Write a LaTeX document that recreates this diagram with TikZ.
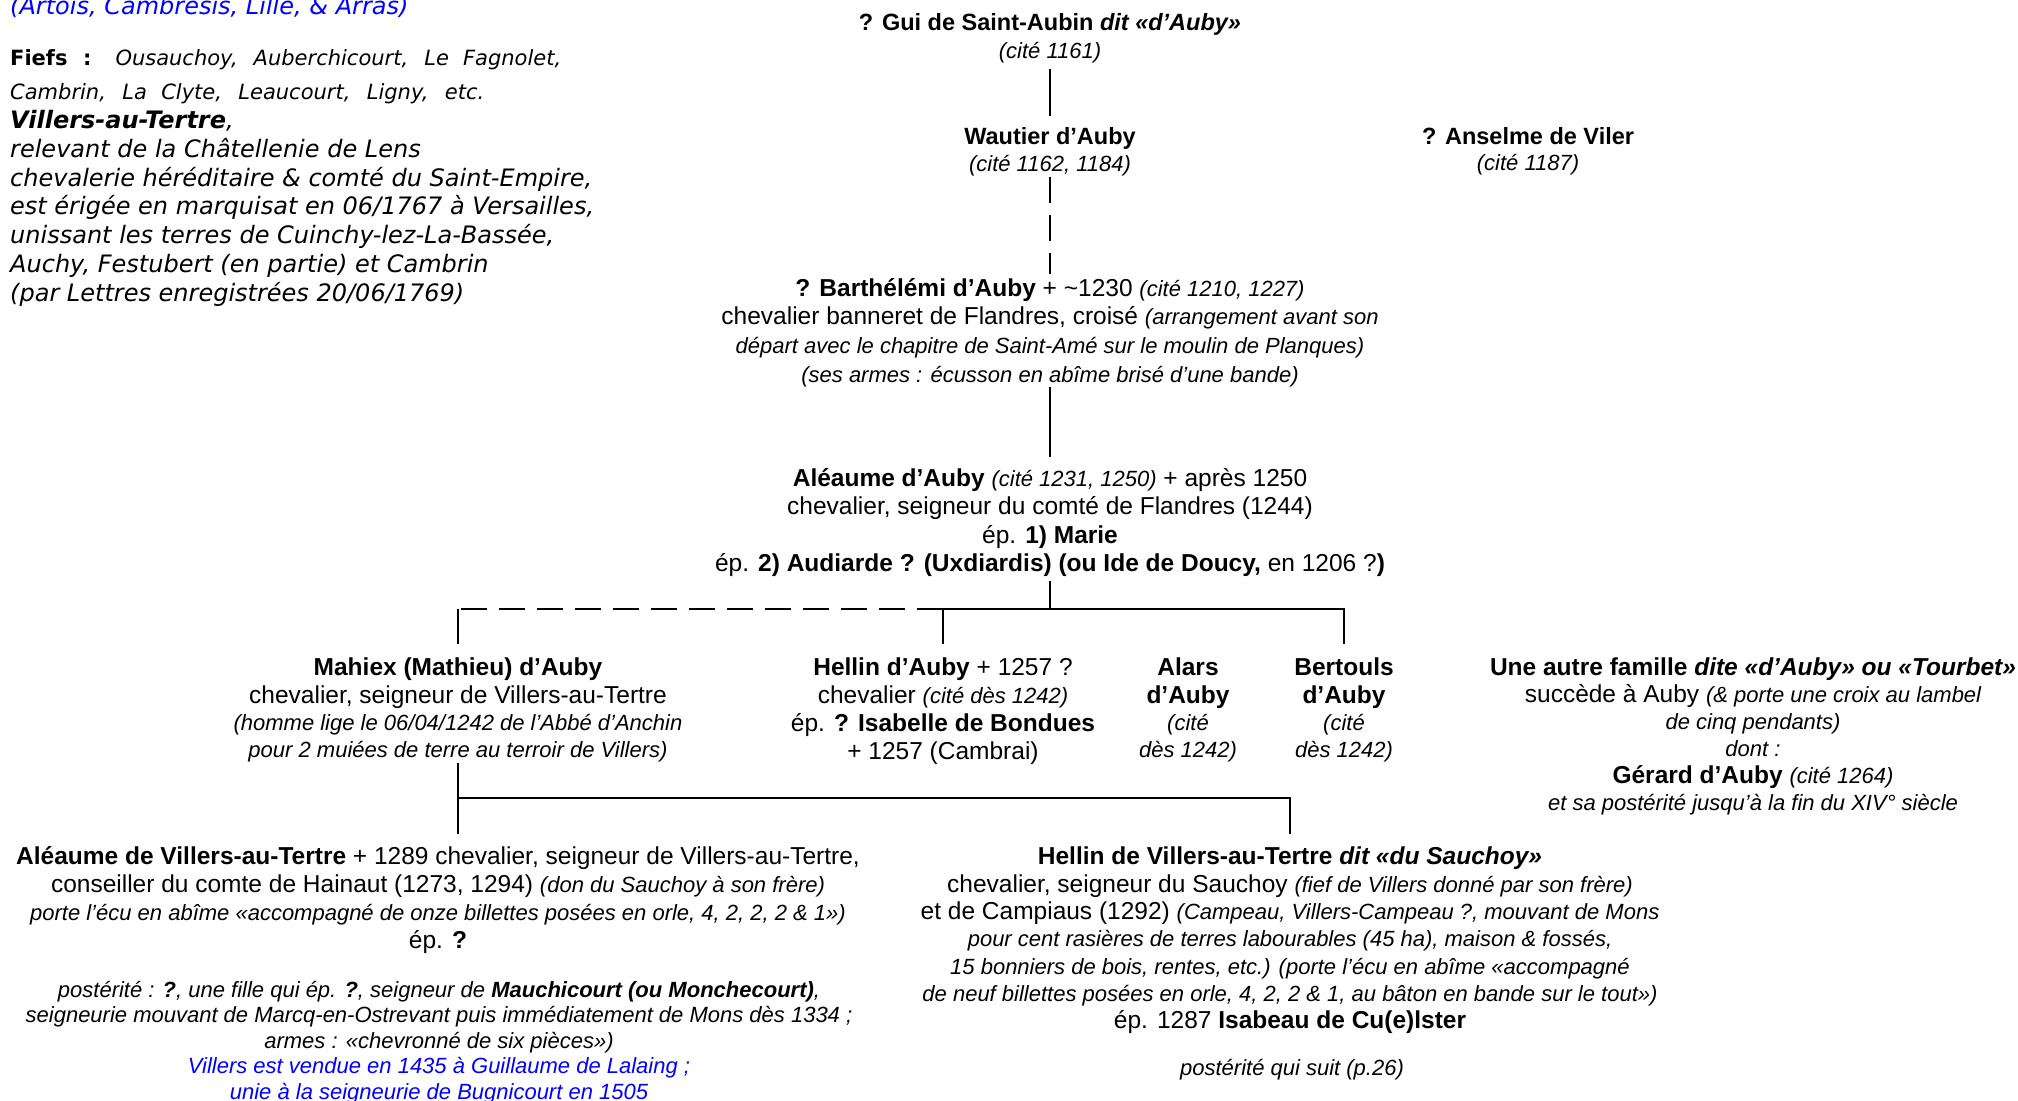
\documentclass[tikz,border=0pt]{standalone}
\usepackage{fontspec}
\setmainfont{Liberation Sans}
\newfontfamily\verdfont{DejaVu Sans}
\definecolor{noteblue}{RGB}{0,0,255}
\newcommand{\txt}[1]{\fontsize{24.5}{#1}\selectfont}
\newcommand{\sm}[1]{{\fontsize{22}{26}\selectfont\itshape #1}}

\begin{document}
\begin{tikzpicture}[x=1pt,y=-1pt,
	person/.style={align=center,inner sep=0pt,anchor=north,font={\txt{28.5}}},
	link/.style={line width=2.4pt},
	linkdash/.style={line width=2.4pt,dash pattern=on 26pt off 12pt}]
	\useasboundingbox (0,0) rectangle (2018,1100);
	% notes on the fief
	\node[anchor=base west,inner sep=0pt,text=noteblue,font={\verdfont\fontsize{24}{28}\selectfont\itshape}] (region) at (10,14) {(Artois, Cambrésis, Lille, \& Arras)};
	\node[anchor=north west,inner sep=0pt,align=left,font={\verdfont\fontsize{21}{34}\selectfont}] (fiefs) at (10,49)
		{\makebox[551pt][s]{\textbf{Fiefs :} \textit{Ousauchoy, Auberchicourt, Le Fagnolet,}}\\
		 \makebox[474pt][s]{\textit{Cambrin, La Clyte, Leaucourt, Ligny, etc.}}};
	\node[anchor=north west,inner sep=0pt,align=left,font={\verdfont\fontsize{24}{28.8}\selectfont\itshape}] (villers) at (10,110)
		{\textbf{Villers-au-Tertre},\\
		 relevant de la Châtellenie de Lens\\
		 chevalerie héréditaire \& comté du Saint-Empire,\\
		 est érigée en marquisat en 06/1767 à Versailles,\\
		 unissant les terres de Cuinchy-lez-La-Bassée,\\
		 Auchy, Festubert (en partie) et Cambrin\\
		 (par Lettres enregistrées 20/06/1769)};
	% the family
	\node[person,font={\fontsize{23.5}{28}\selectfont}] (gui) at (1050,13)
		{\textbf{? Gui de Saint-Aubin \textit{dit «d’Auby»}}\\\sm{(cité 1161)}};
	\node[person,font={\fontsize{23.5}{27.5}\selectfont}] (wautier) at (1050,127)
		{\textbf{Wautier d’Auby}\\\sm{(cité 1162, 1184)}};
	\node[person,font={\fontsize{23.5}{26}\selectfont}] (anselme) at (1528,127)
		{\textbf{? Anselme de Viler}\\\sm{(cité 1187)}};
	\node[person,font={\txt{28.7}}] (barthelemi) at (1050,278)
		{\textbf{? Barthélémi d’Auby} + \textasciitilde1230 \sm{(cité 1210, 1227)}\\
		 chevalier banneret de Flandres, croisé \sm{(arrangement avant son}\\
		 \sm{départ avec le chapitre de Saint-Amé sur le moulin de Planques)}\\
		 \sm{(ses armes : écusson en abîme brisé d’une bande)}};
	\node[person] (aleaume) at (1050,468)
		{\textbf{Aléaume d’Auby} \sm{(cité 1231, 1250)} + après 1250\\
		 chevalier, seigneur du comté de Flandres (1244)\\
		 ép. \textbf{1) Marie}\\
		 ép. \textbf{2) Audiarde ? (Uxdiardis) (ou Ide de Doucy,} en 1206 ?\textbf{)}};
	\node[person,font={\txt{27.2}}] (mahiex) at (458,658)
		{\textbf{Mahiex (Mathieu) d’Auby}\\
		 chevalier, seigneur de Villers-au-Tertre\\
		 \sm{(homme lige le 06/04/1242 de l’Abbé d’Anchin}\\
		 \sm{pour 2 muiées de terre au terroir de Villers)}};
	\node[person,font={\txt{28}}] (hellin) at (943,658)
		{\textbf{Hellin d’Auby} + 1257 ?\\
		 chevalier \sm{(cité dès 1242)}\\
		 ép. \textbf{? Isabelle de Bondues}\\
		 + 1257 (Cambrai)};
	\node[person,font={\txt{27.2}}] (alars) at (1188,658)
		{\textbf{Alars}\\\textbf{d’Auby}\\\sm{(cité}\\\sm{dès 1242)}};
	\node[person,font={\txt{27.2}}] (bertouls) at (1344,658)
		{\textbf{Bertouls}\\\textbf{d’Auby}\\\sm{(cité}\\\sm{dès 1242)}};
	\node[person,font={\txt{27}}] (autre) at (1753,658)
		{\textbf{Une autre famille \textit{dite «d’Auby» ou «Tourbet»}}\\
		 succède à Auby \sm{(\& porte une croix au lambel}\\
		 \sm{de cinq pendants)}\\
		 \sm{dont :}\\
		 \textbf{Gérard d’Auby} \sm{(cité 1264)}\\
		 \sm{et sa postérité jusqu’à la fin du XIV° siècle}};
	\node[person,font={\txt{28}}] (aleaumeV) at (438,846)
		{\textbf{Aléaume de Villers-au-Tertre} + 1289 chevalier, seigneur de Villers-au-Tertre,\\
		 conseiller du comte de Hainaut (1273, 1294) \sm{(don du Sauchoy à son frère)}\\
		 \sm{porte l’écu en abîme «accompagné de onze billettes posées en orle, 4, 2, 2, 2 \& 1»)}\\
		 ép. \textbf{?}};
	\node[person,font={\fontsize{22}{25.5}\selectfont}] (posterite) at (439,981)
		{\sm{postérité : \textbf{?}, une fille qui ép. \textbf{?}, seigneur de \textbf{Mauchicourt (ou Monchecourt)},}\\
		 \sm{seigneurie mouvant de Marcq-en-Ostrevant puis immédiatement de Mons dès 1334 ;}\\
		 \sm{armes : «chevronné de six pièces»)}\\
		 \textcolor{noteblue}{\sm{Villers est vendue en 1435 à Guillaume de Lalaing ;}}\\
		 \textcolor{noteblue}{\sm{unie à la seigneurie de Bugnicourt en 1505}}};
	\node[person,font={\txt{27.3}}] (hellinV) at (1290,847)
		{\textbf{Hellin de Villers-au-Tertre \textit{dit «du Sauchoy»}}\\
		 chevalier, seigneur du Sauchoy \sm{(fief de Villers donné par son frère)}\\
		 et de Campiaus (1292) \sm{(Campeau, Villers-Campeau ?, mouvant de Mons}\\
		 \sm{pour cent rasières de terres labourables (45 ha), maison \& fossés,}\\
		 \sm{15 bonniers de bois, rentes, etc.) (porte l’écu en abîme «accompagné}\\
		 \sm{de neuf billettes posées en orle, 4, 2, 2 \& 1, au bâton en bande sur le tout»)}\\
		 ép. 1287 \textbf{Isabeau de Cu(e)lster}};
	\node[anchor=base,inner sep=0pt] (suite) at (1292,1075) {\sm{postérité qui suit (p.26)}};
	% lines of descent
	\coordinate (bar) at (1050,609);
	\coordinate (split) at (943,609);
	\coordinate (mtop) at (458,609);
	\coordinate (fork) at (458,798);
	\draw[link,shorten <=6pt,shorten >=11pt] (gui) -- (wautier);
	\draw[linkdash,shorten <=1pt,shorten >=4pt] (wautier) -- (barthelemi);
	\draw[link,shorten >=11pt] (barthelemi) -- (aleaume);
	\draw[link,shorten <=4pt] (aleaume) -- (bar);
	\draw[link,shorten >=14pt] (split) -| (bertouls);
	\draw[link,shorten >=14pt] (split) -- (hellin);
	\draw[linkdash] (split) -- (mtop);
	\draw[link,shorten >=14pt] (mtop) -- (mahiex);
	\draw[link,shorten <=1pt] (mahiex) -- (fork);
	\draw[link,shorten >=12pt] (fork) -- (aleaumeV.north -| fork);
	\draw[link,shorten >=13pt] (fork) -| (hellinV);
\end{tikzpicture}
\end{document}
